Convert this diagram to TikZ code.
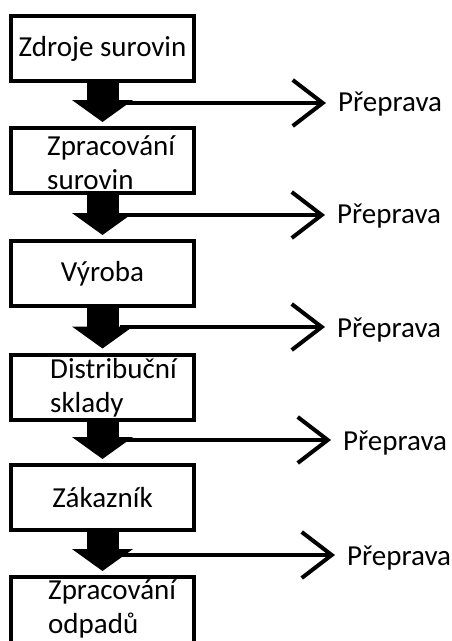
\documentclass[tikz,border=0pt]{standalone}
\usepackage{fontspec}
\setmainfont{Carlito}
\usetikzlibrary{arrows.meta}

\tikzset{
  stage/.style={draw, line width=4pt, minimum width=183pt, minimum height=65pt, inner sep=0pt},
  stage text/.style={anchor=base west, align=left, inner sep=0pt},
  flow/.style={line width=32pt, -{Triangle[width=60pt, length=22pt]}, shorten >=4pt},
  transport/.style={line width=4pt, -{Straight Barb[width=46pt, length=30pt]}, shorten >=12pt},
  transport text/.style={anchor=base west, inner sep=0pt},
}

\begin{document}
\begin{tikzpicture}[x=1pt, y=-1pt, font=\fontsize{29pt}{34pt}\selectfont]
  \useasboundingbox (0,0) rectangle (451,641);

  % stages
  \node (zdroje) [stage] at (102.5,48.5) {Zdroje surovin};
  \node (zpracovani) [stage] at (102.5,160.5) {};
  \node (zpracovani text) [stage text] at (47,189) {Zpracování\\surovin};
  \node (vyroba) [stage] at (102.5,273.5) {Výroba};
  \node (sklady) [stage] at (102.5,387) {};
  \node (sklady text) [stage text] at (50,412) {Distribuční\\sklady};
  \node (zakaznik) [stage] at (102.5,497.5) {Zákazník};
  \node (odpady) [stage, minimum height=72pt] at (102.5,613) {};
  \node (odpady text) [stage text] at (48,633) {Zpracování\\odpadů};

  % flow between stages
  \draw [flow] (zdroje.south) -- (zpracovani.north);
  \draw [flow] (zpracovani.south) -- (vyroba.north);
  \draw [flow] (vyroba.south) -- (sklady.north);
  \draw [flow] (sklady.south) -- (zakaznik.north);
  \draw [flow] (zakaznik.south) -- (odpady.north);

  % transport
  \node (preprava 1) [transport text] at (338,111) {Přeprava};
  \node (preprava 2) [transport text] at (337,223) {Přeprava};
  \node (preprava 3) [transport text] at (337,337) {Přeprava};
  \node (preprava 4) [transport text] at (343,450) {Přeprava};
  \node (preprava 5) [transport text] at (347,565) {Přeprava};

  \coordinate (branch 1) at (120,103);
  \coordinate (branch 2) at (120,215);
  \coordinate (branch 3) at (120,327);
  \coordinate (branch 4) at (120,440);
  \coordinate (branch 5) at (120,555);

  \draw [transport] (branch 1) -- (branch 1 -| preprava 1.west);
  \draw [transport] (branch 2) -- (branch 2 -| preprava 2.west);
  \draw [transport] (branch 3) -- (branch 3 -| preprava 3.west);
  \draw [transport] (branch 4) -- (branch 4 -| preprava 4.west);
  \draw [transport] (branch 5) -- (branch 5 -| preprava 5.west);
\end{tikzpicture}
\end{document}
